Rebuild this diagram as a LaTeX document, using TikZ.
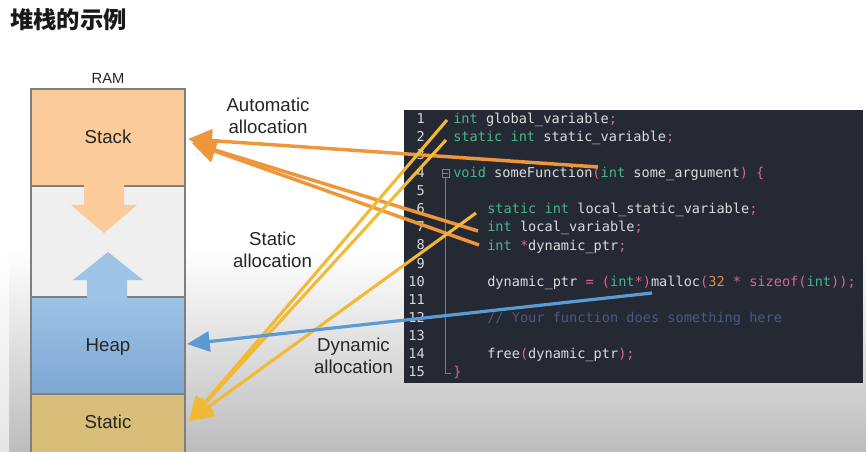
\documentclass[tikz,border=0pt]{standalone}
\usepackage{fontspec}
\setmainfont{Liberation Sans}
\newfontfamily\cjk{Noto Sans CJK SC}
\newfontfamily\codefont{DejaVu Sans Mono}
\usetikzlibrary{arrows.meta}
\definecolor{stackc}{HTML}{FBCB99}
\definecolor{midc}{HTML}{EFEFEF}
\definecolor{heapT}{HTML}{9DC3E6}
\definecolor{heapB}{HTML}{7EA7D2}
\definecolor{staticc}{HTML}{D9BE7A}
\definecolor{boxline}{HTML}{7F7F7F}
\definecolor{txt}{HTML}{262626}
\definecolor{autoc}{HTML}{F0963A}
\definecolor{statc}{HTML}{F2B935}
\definecolor{dync}{HTML}{5B9BD5}
\definecolor{codebg}{HTML}{252933}
\definecolor{kwc}{HTML}{45B88A}
\definecolor{idc}{HTML}{DCDCDC}
\definecolor{pkc}{HTML}{D9658E}
\definecolor{numc}{HTML}{E4894A}
\definecolor{cmc}{HTML}{4B5A84}
\definecolor{lnc}{HTML}{D8D8D8}
\definecolor{foldc}{HTML}{7C7C9C}
\definecolor{bgbot}{HTML}{BCBCBC}
\newcommand\ck[1]{\textcolor{kwc}{#1}}
\newcommand\cp[1]{\textcolor{pkc}{#1}}
\newcommand\cn[1]{\textcolor{numc}{#1}}
\newcommand\cc[1]{\textcolor{cmc}{#1}}
\tikzset{
  membox/.style={draw=boxline, line width=1.1pt, minimum width=115.5pt, inner sep=0, outer sep=0},
  lbl/.style={font=\fontsize{14}{16.5}\selectfont, text=txt, align=center, inner sep=0},
  codeline/.style={anchor=base west, inner sep=0, font=\codefont\fontsize{10.2}{12}\selectfont, text=idc},
  lnum/.style={anchor=base east, inner sep=0, font=\codefont\fontsize{10.2}{12}\selectfont, text=lnc},
  autoarrow/.style={draw=autoc, line width=2.6pt, -{Triangle[length=18pt,width=17pt]}},
  statarrow/.style={draw=statc, line width=2.3pt, -{Triangle[length=18pt,width=17pt]}},
  dynarrow/.style={draw=dync, line width=2.4pt, -{Triangle[length=17pt,width=15pt]}},
}
\begin{document}
\begin{tikzpicture}[x=0.75pt, y=-0.75pt]
\useasboundingbox (0,0) rectangle (866,452);
\clip (0,0) rectangle (866,452);
% background
\fill[white] (0,0) rectangle (866,452);
\shade[top color=white, bottom color=bgbot] (9,250) rectangle (866,452);
\shade[top color=white, bottom color=gray!20] (0,250) rectangle (9,452);
% title
\node[anchor=west, inner sep=0, font=\cjk\bfseries\fontsize{17.5}{20}\selectfont, text=black!90] (title) at (10,20) {堆栈的示例};
% RAM column
\node[lbl, font=\fontsize{11}{13}\selectfont] (ram) at (108,78) {RAM};
\node[membox, fill=stackc, minimum height=72.75pt] (stack) at (108,137.5) {};
\node[membox, fill=midc, minimum height=83.25pt] (mid) at (108,241.5) {};
\node[membox, top color=heapT, bottom color=heapB, minimum height=72.75pt] (heap) at (108,345.5) {};
\node[membox, fill=staticc, minimum height=49.5pt] (static) at (108,427) {};
% block arrows
\fill[stackc] (84,184) -- (124,184) -- (124,205) -- (137,205) -- (104,233) -- (71,205) -- (84,205) -- cycle;
\fill[heapT] (108,252) -- (143,280) -- (127,280) -- (127,299) -- (87,299) -- (87,280) -- (73,280) -- cycle;
\node[lbl] (stacklbl) at (108,137) {Stack};
\node[lbl] (heaplbl) at (108,347) {Heap};
\node[lbl] (staticlbl) at (108,422) {Static};
% allocation labels
\node[lbl] (autolbl) at (268,116) {Automatic\\allocation};
\node[lbl] (statlbl) at (272.5,250) {Static\\allocation};
\node[lbl] (dynlbl) at (353.5,356) {Dynamic\\allocation};
% code panel
\node[fill=codebg, inner sep=0, minimum width=344.25pt, minimum height=204.75pt] (code) at (633.5,246.5) {};
\foreach \n in {1,...,15} \node[lnum] (n\n) at (425,{123.5+(\n-1)*18.07}) {\n};
\node[draw=foldc, line width=0.6pt, minimum width=5.25pt, minimum height=6pt, inner sep=0] (fold) at (445.5,173.2) {};
\draw[foldc, line width=0.6pt] (443.3,173.2) -- (447.7,173.2);
\draw[foldc, line width=0.6pt] (fold.south) -- (445.5,373) -- (451,373);
\node[codeline] (l1) at (453,123.5) {\ck{int} global\_variable\cp{;}};
\node[codeline] (l2) at (453,141.6) {\ck{static int} static\_variable\cp{;}};
\node[codeline] (l4) at (453,177.7) {\ck{void} someFunction\cp{(}\ck{int} some\_argument\cp{)} \cp{\{}};
\node[codeline] (l6) at (487,213.85) {\ck{static int} local\_static\_variable\cp{;}};
\node[codeline] (l7) at (487,231.9) {\ck{int} local\_variable\cp{;}};
\node[codeline] (l8) at (487,250.0) {\ck{int} \cp{*}dynamic\_ptr\cp{;}};
\node[codeline] (l10) at (487,286.1) {dynamic\_ptr \cp{=} \cp{(}\ck{int}\cp{*)}malloc\cp{(}\cn{32} \cp{*} \cp{sizeof(}\ck{int}\cp{));}};
\node[codeline] (l12) at (487,322.3) {\cc{// Your function does something here}};
\node[codeline] (l14) at (487,358.4) {free\cp{(}dynamic\_ptr\cp{);}};
\node[codeline] (l15) at (453,376.5) {\cp{\}}};
% arrow end points
\coordinate (a4) at (598,167);
\coordinate (a7) at (478,231);
\coordinate (a8) at (479,245);
\coordinate (s1) at (447,120);
\coordinate (s2) at (446,140);
\coordinate (s6) at (476,213);
\coordinate (d10) at (652,293);
\coordinate (tA) at (188,139);
\coordinate (tA2) at (192,143);
\coordinate (tS) at (189,421);
\coordinate (tH) at (187,344);
% arrows
\draw[autoarrow] (a4) -- (tA);
\draw[autoarrow] (a7) -- (tA2);
\draw[autoarrow] (a8) -- (tA2);
\draw[statarrow] (s1) -- (tS);
\draw[statarrow] (s2) -- (tS);
\draw[statarrow] (s6) -- (tS);
\draw[dynarrow] (d10) -- (tH);
\end{tikzpicture}
\end{document}
